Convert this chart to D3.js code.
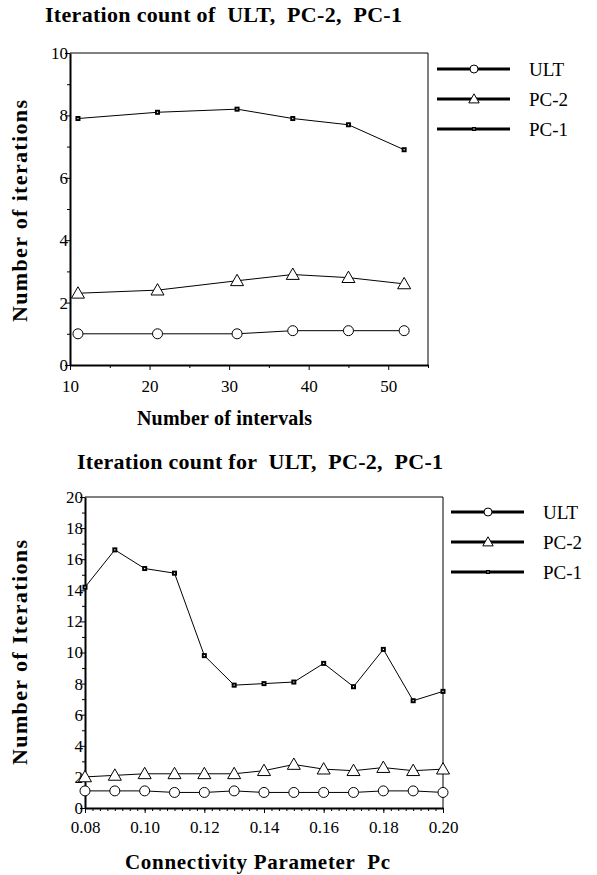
<!DOCTYPE html>
<html>
<head>
<meta charset="utf-8">
<script src="https://cdn.jsdelivr.net/npm/d3@7"></script>
</head>
<body style="margin:0;background:#fff">
<svg id="chart" width="597" height="875"></svg>
<script>
/* Data Setup */
const seriesNames = ['ULT', 'PC-2', 'PC-1'];

/* top panel: number of intervals */
const intervals = [11, 21, 31, 38, 45, 52];
const ultByIntervals = [1.0, 1.0, 1.0, 1.1, 1.1, 1.1];
const pc2ByIntervals = [2.3, 2.4, 2.7, 2.9, 2.8, 2.6];
const pc1ByIntervals = [7.9, 8.1, 8.2, 7.9, 7.7, 6.9];
const topXTicks = [10, 20, 30, 40, 50];
const topYTicks = [0, 2, 4, 6, 8, 10];

/* bottom panel: connectivity parameter */
const pcValues = [0.08, 0.09, 0.10, 0.11, 0.12, 0.13, 0.14, 0.15, 0.16, 0.17, 0.18, 0.19, 0.20];
const ultByPc = [1.1, 1.1, 1.1, 1.0, 1.0, 1.1, 1.0, 1.0, 1.0, 1.0, 1.1, 1.1, 1.0];
const pc2ByPc = [2.0, 2.1, 2.2, 2.2, 2.2, 2.2, 2.4, 2.8, 2.5, 2.4, 2.6, 2.4, 2.5];
const pc1ByPc = [14.2, 16.6, 15.4, 15.1, 9.8, 7.9, 8.0, 8.1, 9.3, 7.8, 10.2, 6.9, 7.5];
const bottomXTicks = [0.08, 0.10, 0.12, 0.14, 0.16, 0.18, 0.20];
const bottomYTicks = [0, 2, 4, 6, 8, 10, 12, 14, 16, 18, 20];

const FONT = "Liberation Serif";
const svg = d3.select("#chart");

/* keep the double spaces of the original titles */
const keepSpaces = s => s.replace(/  /g, " \u00A0");

/* serif text helper */
function label(sel, size, bold) {
    return sel
        .attr("font-family", FONT)
        .attr("font-size", size)
        .attr("font-weight", bold ? "bold" : "normal")
        .style("font-family", FONT, "important")
        .style("font-size", size + "px", "important")
        .style("font-weight", bold ? "bold" : "normal", "important")
        .attr("fill", "#000");
}

/* Marker drawing, shared by plot and legend */
function drawMarker(g, name, x, y, scale) {
    if (name === 'ULT') {
        g.append("circle")
            .attr("cx", x).attr("cy", y).attr("r", 5 * scale)
            .attr("fill", "#fff").attr("stroke", "#000").attr("stroke-width", 1);
    } else if (name === 'PC-2') {
        const s = 6.5 * scale;
        g.append("path")
            .attr("d", `M${x},${y - s} L${x + s},${y + s * 0.75} L${x - s},${y + s * 0.75} Z`)
            .attr("fill", "#fff").attr("stroke", "#000").attr("stroke-width", 1);
    } else {
        const s = 5 * scale;
        g.append("rect")
            .attr("x", x - s / 2).attr("y", y - s / 2)
            .attr("width", s).attr("height", s)
            .attr("fill", "#000");
        g.append("rect")
            .attr("x", x - 0.6).attr("y", y - 0.6)
            .attr("width", 1.2).attr("height", 1.2)
            .attr("fill", "#fff");
    }
}

/* Chart Drawing Function */
function drawPanel(cfg) {
    const g = svg.append("g");

    const x = d3.scaleLinear().domain(cfg.xDomain).range([cfg.left, cfg.right]);
    const y = d3.scaleLinear().domain(cfg.yDomain).range([cfg.bottom, cfg.top]);

    /* title */
    svg.append("text")
        .attr("x", cfg.titleX).attr("y", cfg.titleY)
        .attr("textLength", cfg.titleW).attr("lengthAdjust", "spacing")
        .call(label, 22, true)
        .text(keepSpaces(cfg.title));

    /* frame top and right */
    g.append("path")
        .attr("d", `M${cfg.left},${cfg.top} H${cfg.right} V${cfg.bottom}`)
        .attr("fill", "none").attr("stroke", "#000").attr("stroke-width", 1);

    /* minor ticks */
    g.append("g")
        .attr("transform", `translate(0,${cfg.bottom})`)
        .call(d3.axisBottom(x).tickValues(cfg.xMinor).tickSize(3).tickFormat(""))
        .call(a => a.select(".domain").remove());
    g.append("g")
        .attr("transform", `translate(${cfg.left},0)`)
        .call(d3.axisLeft(y).tickValues(cfg.yMinor).tickSize(3).tickFormat(""))
        .call(a => a.select(".domain").remove());

    /* x axis */
    const xAxis = g.append("g")
        .attr("transform", `translate(0,${cfg.bottom})`)
        .call(d3.axisBottom(x).tickValues(cfg.xTicks).tickSize(5).tickSizeOuter(0)
            .tickPadding(cfg.xPad).tickFormat(cfg.xFormat));
    xAxis.attr("font-family", FONT).attr("font-size", 17);
    xAxis.selectAll("text").call(label, 17, false);
    xAxis.select(".domain").attr("stroke-width", 2);

    /* y axis */
    const yAxis = g.append("g")
        .attr("transform", `translate(${cfg.left},0)`)
        .call(d3.axisLeft(y).tickValues(cfg.yTicks).tickSize(5).tickSizeOuter(0)
            .tickPadding(-3).tickFormat(d3.format("d")));
    yAxis.attr("font-family", FONT).attr("font-size", 17);
    yAxis.selectAll("text").call(label, 17, false);
    yAxis.select(".domain").attr("stroke-width", 2);

    /* axis titles */
    svg.append("text")
        .attr("x", cfg.xTitleX).attr("y", cfg.xTitleY)
        .attr("textLength", cfg.xTitleW).attr("lengthAdjust", "spacing")
        .call(label, cfg.xTitleSize, true)
        .text(keepSpaces(cfg.xTitle));
    svg.append("text")
        .attr("transform", `translate(${cfg.yTitleX},${cfg.yTitleY}) rotate(-90)`)
        .attr("textLength", cfg.yTitleW).attr("lengthAdjust", "spacing")
        .call(label, 22, true)
        .text(cfg.yTitle);

    /* series */
    const line = d3.line().x(d => x(d[0])).y(d => y(d[1]));
    cfg.series.forEach((vals, i) => {
        const pts = cfg.xs.map((v, j) => [v, vals[j]]);
        g.append("path")
            .datum(pts)
            .attr("d", line)
            .attr("fill", "none").attr("stroke", "#000").attr("stroke-width", 1);
        const mg = g.append("g");
        pts.forEach(p => drawMarker(mg, seriesNames[i], x(p[0]), y(p[1]), 1));
    });

    /* legend */
    seriesNames.forEach((name, i) => {
        const ly = cfg.legendY + i * 30;
        g.append("line")
            .attr("x1", cfg.legendX).attr("x2", cfg.legendX + 73)
            .attr("y1", ly).attr("y2", ly)
            .attr("stroke", "#000").attr("stroke-width", 3);
        drawMarker(g, name, cfg.legendX + 37, ly, 0.8);
        svg.append("text")
            .attr("x", cfg.legendX + 92).attr("y", ly + 7)
            .call(label, 19, false)
            .text(name);
    });
}

/* Render Charts */
drawPanel({
    left: 70, right: 428, top: 53, bottom: 365,
    xDomain: [10, 55], yDomain: [0, 10],
    xTicks: topXTicks, yTicks: topYTicks,
    xMinor: [15, 25, 35, 45, 55], yMinor: [1, 3, 5, 7, 9],
    xFormat: d3.format("d"), xPad: 10,
    xs: intervals, series: [ultByIntervals, pc2ByIntervals, pc1ByIntervals],
    title: "Iteration count of  ULT,  PC-2,  PC-1", titleX: 45, titleY: 22, titleW: 357,
    xTitle: "Number of intervals", xTitleX: 137, xTitleY: 425, xTitleW: 175, xTitleSize: 20,
    yTitle: "Number of iterations", yTitleX: 27, yTitleY: 322, yTitleW: 222,
    legendX: 437, legendY: 69
});

drawPanel({
    left: 85, right: 443, top: 497, bottom: 808,
    xDomain: [0.08, 0.20], yDomain: [0, 20],
    xTicks: bottomXTicks, yTicks: bottomYTicks,
    xMinor: d3.range(0, 49).map(i => 0.08 + i * 0.0025), yMinor: d3.range(1, 20, 2),
    xFormat: d3.format(".2f"), xPad: 8,
    xs: pcValues, series: [ultByPc, pc2ByPc, pc1ByPc],
    title: "Iteration count for  ULT,  PC-2,  PC-1", titleX: 77, titleY: 469, titleW: 366,
    xTitle: "Connectivity Parameter  Pc", xTitleX: 125, xTitleY: 869, xTitleW: 265, xTitleSize: 21,
    yTitle: "Number of Iterations", yTitleX: 27, yTitleY: 765, yTitleW: 225,
    legendX: 451, legendY: 512
});
</script>
</body>
</html>
